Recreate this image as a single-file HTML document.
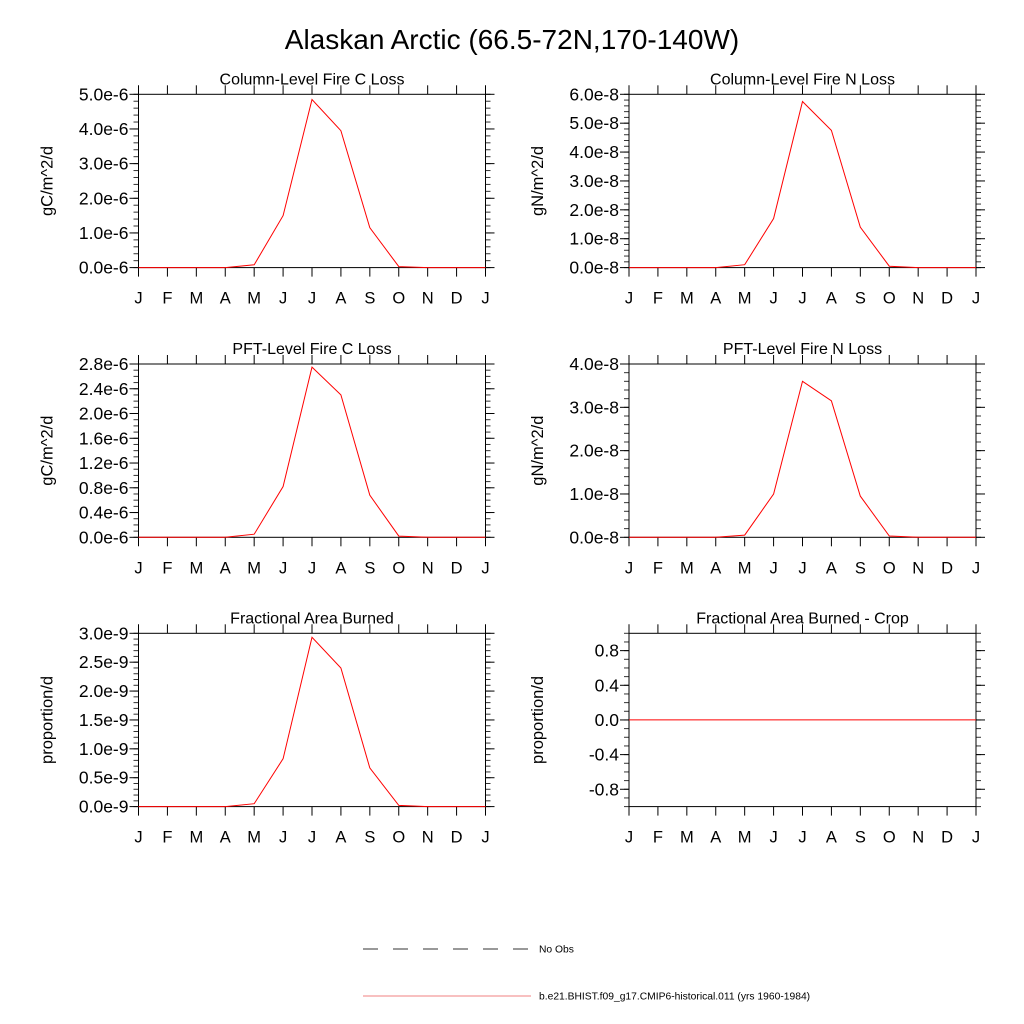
<!DOCTYPE html>
<html><head><meta charset="utf-8"><style>
body{margin:0;background:#fff}
svg{display:block;font-family:"Liberation Sans",sans-serif}
</style></head><body>
<svg id="chart" width="1024" height="1024" viewBox="0 0 1024 1024">
<text x="512" y="49" font-size="28" text-anchor="middle">Alaskan Arctic (66.5-72N,170-140W)</text>
<g id="panels"></g>
<g>
<line x1="363" y1="949" x2="531" y2="949" stroke="#333" stroke-width="1" stroke-dasharray="15,15"/>
<text x="539" y="952.5" font-size="10.3">No Obs</text>
<line x1="363" y1="996" x2="531" y2="996" stroke="#f08080" stroke-width="1"/>
<text x="539" y="999.5" font-size="10.3">b.e21.BHIST.f09_g17.CMIP6-historical.011 (yrs 1960-1984)</text>
</g>
</svg>
<script>
const months = ["J","F","M","A","M","J","J","A","S","O","N","D","J"];
const colCLoss = [0,0,0,0,0.08e-6,1.5e-6,4.85e-6,3.95e-6,1.15e-6,0.03e-6,0,0,0];
const colNLoss = [0,0,0,0,0.1e-8,1.7e-8,5.75e-8,4.75e-8,1.4e-8,0.05e-8,0,0,0];
const pftCLoss = [0,0,0,0,0.05e-6,0.82e-6,2.75e-6,2.3e-6,0.68e-6,0.02e-6,0,0,0];
const pftNLoss = [0,0,0,0,0.05e-8,1.0e-8,3.6e-8,3.15e-8,0.95e-8,0.03e-8,0,0,0];
const fracBurned = [0,0,0,0,0.05e-9,0.83e-9,2.93e-9,2.4e-9,0.67e-9,0.02e-9,0,0,0];
const fracCrop = [0,0,0,0,0,0,0,0,0,0,0,0,0];
const ticks1 = ["0.0e-6","1.0e-6","2.0e-6","3.0e-6","4.0e-6","5.0e-6"];
const ticks2 = ["0.0e-8","1.0e-8","2.0e-8","3.0e-8","4.0e-8","5.0e-8","6.0e-8"];
const ticks3 = ["0.0e-6","0.4e-6","0.8e-6","1.2e-6","1.6e-6","2.0e-6","2.4e-6","2.8e-6"];
const ticks4 = ["0.0e-8","1.0e-8","2.0e-8","3.0e-8","4.0e-8"];
const ticks5 = ["0.0e-9","0.5e-9","1.0e-9","1.5e-9","2.0e-9","2.5e-9","3.0e-9"];
const ticks6 = ["-0.8","-0.4","0.0","0.4","0.8"];

const panels = [
 {name:"column-fire-c-loss",title:"Column-Level Fire C Loss",ylab:"gC/m^2/d",x:138.5,y:94.3,data:colCLoss,ymin:0,ymax:5e-6,tv:[0,1e-6,2e-6,3e-6,4e-6,5e-6],tl:ticks1,minor:0.2e-6},
 {name:"column-fire-n-loss",title:"Column-Level Fire N Loss",ylab:"gN/m^2/d",x:629,y:94.3,data:colNLoss,ymin:0,ymax:6e-8,tv:[0,1e-8,2e-8,3e-8,4e-8,5e-8,6e-8],tl:ticks2,minor:0.2e-8},
 {name:"pft-fire-c-loss",title:"PFT-Level Fire C Loss",ylab:"gC/m^2/d",x:138.5,y:364,data:pftCLoss,ymin:0,ymax:2.8e-6,tv:[0,0.4e-6,0.8e-6,1.2e-6,1.6e-6,2.0e-6,2.4e-6,2.8e-6],tl:ticks3,minor:0.1e-6},
 {name:"pft-fire-n-loss",title:"PFT-Level Fire N Loss",ylab:"gN/m^2/d",x:629,y:364,data:pftNLoss,ymin:0,ymax:4e-8,tv:[0,1e-8,2e-8,3e-8,4e-8],tl:ticks4,minor:0.2e-8},
 {name:"fractional-area-burned",title:"Fractional Area Burned",ylab:"proportion/d",x:138.5,y:633.3,data:fracBurned,ymin:0,ymax:3e-9,tv:[0,0.5e-9,1e-9,1.5e-9,2e-9,2.5e-9,3e-9],tl:ticks5,minor:0.1e-9},
 {name:"fractional-area-burned-crop",title:"Fractional Area Burned - Crop",ylab:"proportion/d",x:629,y:633.3,data:fracCrop,ymin:-1,ymax:1,tv:[-0.8,-0.4,0,0.4,0.8],tl:ticks6,minor:0.1}
];
const W=347,H=173.3,NS="http://www.w3.org/2000/svg";
const root=document.getElementById("panels");
function mk(tag,attrs,parent){const e=document.createElementNS(NS,tag);for(const k in attrs)e.setAttribute(k,attrs[k]);parent.appendChild(e);return e;}
panels.forEach(p=>{
 const g=mk("g",{},root);
 
 
 const sx=i=>p.x+i*W/12, sy=v=>p.y+H-(v-p.ymin)/(p.ymax-p.ymin)*H;
 const t=mk("text",{x:p.x+W/2,y:p.y-10,"font-size":16,"text-anchor":"middle"},g);t.textContent=p.title;
 
 
 const yl=mk("text",{x:0,y:0,"font-size":16.5,"text-anchor":"middle",transform:`translate(${p.x-86},${p.y+H/2}) rotate(-90)`},g);yl.textContent=p.ylab;
 
 
 const n=Math.round((p.ymax-p.ymin)/p.minor);
 for(let k=0;k<=n;k++){const yy=sy(p.ymin+k*p.minor);
  mk("line",{x1:p.x-5,x2:p.x,y1:yy,y2:yy,stroke:"#333","stroke-width":1},g);
  mk("line",{x1:p.x+W,x2:p.x+W+5,y1:yy,y2:yy,stroke:"#333","stroke-width":1},g);}
 p.tv.forEach((v,i)=>{const yy=sy(v);
  mk("line",{x1:p.x-9,x2:p.x,y1:yy,y2:yy,stroke:"#000","stroke-width":1},g);
  mk("line",{x1:p.x+W,x2:p.x+W+9,y1:yy,y2:yy,stroke:"#000","stroke-width":1},g);
  const tt=mk("text",{x:p.x-10,y:yy+6,"font-size":17.5,"text-anchor":"end"},g);tt.textContent=p.tl[i];
  
  
 });
 months.forEach((m,i)=>{const xx=sx(i);
  mk("line",{x1:xx,x2:xx,y1:p.y+H,y2:p.y+H+9,stroke:"#000","stroke-width":1},g);
  mk("line",{x1:xx,x2:xx,y1:p.y-9,y2:p.y,stroke:"#000","stroke-width":1},g);
  const tt=mk("text",{x:xx,y:p.y+H+36,"font-size":16.5,"text-anchor":"middle"},g);tt.textContent=m;
  
  
 });
 const r=mk("rect",{x:p.x,y:p.y,width:W,height:H,fill:"none",stroke:"#000","stroke-width":1},g);
 
 
 const pts=p.data.map((v,i)=>sx(i).toFixed(1)+","+sy(v).toFixed(1)).join(" ");
 const pl=mk("polyline",{points:pts,fill:"none",stroke:"#ff0000","stroke-width":1},g);
 
 
});
</script>
</body></html>
